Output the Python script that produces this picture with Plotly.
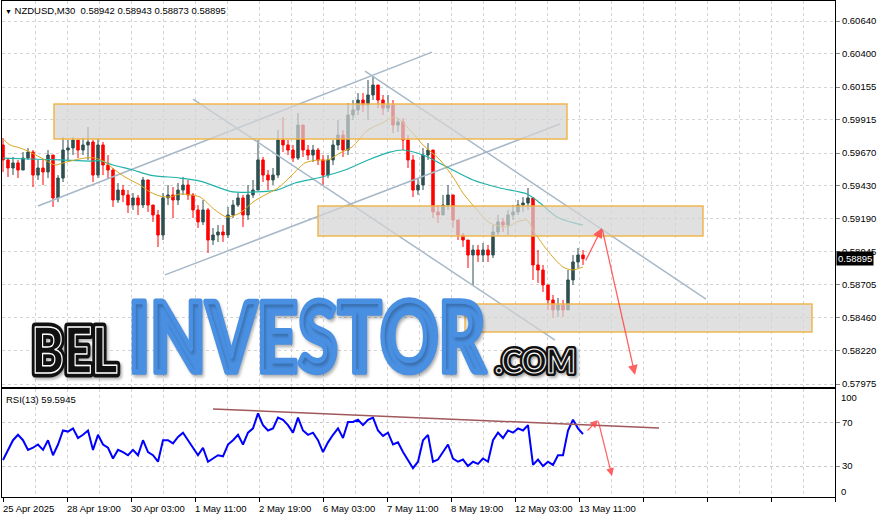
import json
import plotly.graph_objects as go

# ---------------- data ----------------
symbol_header = "NZDUSD,M30"
header_ohlc = ["0.58942", "0.58943", "0.58873", "0.58895"]
last_price = 0.58895
rsi_header = "RSI(13) 59.5945"

# bar index of each candle (5 M30 bars per plotted candle)
bar_x = list(range(3, 584, 5))
first_open = 0.59730
close = [0.59620, 0.59561, 0.59598, 0.59546, 0.59634, 0.59678, 0.59509, 0.59561, 0.59532, 0.59656,
         0.59341, 0.59487, 0.59693, 0.59708, 0.59766, 0.59693, 0.59730, 0.59752, 0.59509, 0.59730,
         0.59583, 0.59546, 0.59326, 0.59399, 0.59363, 0.59289, 0.59341, 0.59289, 0.59473, 0.59289,
         0.59216, 0.59069, 0.59341, 0.59363, 0.59326, 0.59399, 0.59436, 0.59363, 0.59253, 0.59165,
         0.59253, 0.59032, 0.59069, 0.59091, 0.59069, 0.59216, 0.59289, 0.59341, 0.59216, 0.59363,
         0.59399, 0.59620, 0.59509, 0.59473, 0.59509, 0.59766, 0.59730, 0.59693, 0.59634, 0.59876,
         0.59693, 0.59656, 0.59693, 0.59620, 0.59509, 0.59620, 0.59730, 0.59803, 0.59693, 0.59950,
         0.59987, 0.60060, 0.60023, 0.60097, 0.60170, 0.60060, 0.60001, 0.60023, 0.59876, 0.59899,
         0.59766, 0.59620, 0.59399, 0.59436, 0.59656, 0.59693, 0.59238, 0.59216, 0.59289, 0.59363,
         0.59179, 0.59069, 0.59032, 0.58922, 0.58959, 0.58922, 0.58959, 0.58922, 0.59091, 0.59165,
         0.59142, 0.59216, 0.59238, 0.59289, 0.59304, 0.59341, 0.58849, 0.58812, 0.58702, 0.58592,
         0.58519, 0.58555, 0.58519, 0.58739, 0.58871, 0.58922, 0.58895]
high = [0.59781, 0.59634, 0.59642, 0.59620, 0.59678, 0.59708, 0.59693, 0.59620, 0.59620, 0.59693,
        0.59656, 0.59509, 0.59788, 0.59766, 0.59788, 0.59766, 0.59781, 0.59862, 0.59766, 0.59781,
        0.59752, 0.59656, 0.59561, 0.59451, 0.59436, 0.59399, 0.59377, 0.59363, 0.59495, 0.59473,
        0.59289, 0.59253, 0.59377, 0.59436, 0.59421, 0.59451, 0.59495, 0.59473, 0.59377, 0.59289,
        0.59326, 0.59267, 0.59120, 0.59142, 0.59142, 0.59275, 0.59326, 0.59377, 0.59363, 0.59436,
        0.59473, 0.59766, 0.59642, 0.59546, 0.59561, 0.59840, 0.59935, 0.59766, 0.59730, 0.59965,
        0.59876, 0.59730, 0.59730, 0.59708, 0.59656, 0.59656, 0.59766, 0.59913, 0.59840, 0.60038,
        0.60060, 0.60111, 0.60111, 0.60207, 0.60229, 0.60170, 0.60097, 0.60097, 0.60060, 0.59928,
        0.59928, 0.59803, 0.59656, 0.59487, 0.59708, 0.59744, 0.59693, 0.59289, 0.59363, 0.59436,
        0.59363, 0.59179, 0.59084, 0.59032, 0.58996, 0.58996, 0.59010, 0.58996, 0.59142, 0.59216,
        0.59194, 0.59253, 0.59289, 0.59326, 0.59348, 0.59414, 0.59341, 0.58959, 0.58849, 0.58702,
        0.58629, 0.58607, 0.58592, 0.58812, 0.58922, 0.58974, 0.58959]
low = [0.59532, 0.59495, 0.59509, 0.59487, 0.59546, 0.59620, 0.59421, 0.59473, 0.59436, 0.59487,
       0.59275, 0.59311, 0.59458, 0.59620, 0.59656, 0.59634, 0.59656, 0.59620, 0.59458, 0.59487,
       0.59509, 0.59487, 0.59275, 0.59304, 0.59311, 0.59231, 0.59253, 0.59216, 0.59267, 0.59238,
       0.59165, 0.58981, 0.59032, 0.59289, 0.59194, 0.59289, 0.59363, 0.59326, 0.59194, 0.59120,
       0.59142, 0.58937, 0.58996, 0.59018, 0.59018, 0.59047, 0.59194, 0.59275, 0.59128, 0.59179,
       0.59341, 0.59399, 0.59458, 0.59399, 0.59436, 0.59487, 0.59678, 0.59656, 0.59605, 0.59620,
       0.59642, 0.59620, 0.59605, 0.59583, 0.59436, 0.59487, 0.59583, 0.59693, 0.59642, 0.59656,
       0.59913, 0.59950, 0.59972, 0.59913, 0.60060, 0.60001, 0.59950, 0.59972, 0.59818, 0.59825,
       0.59693, 0.59561, 0.59348, 0.59363, 0.59399, 0.59620, 0.59194, 0.59157, 0.59216, 0.59253,
       0.59120, 0.59032, 0.58981, 0.58827, 0.58702, 0.58871, 0.58871, 0.58871, 0.58900, 0.59069,
       0.59091, 0.59069, 0.59179, 0.59216, 0.59238, 0.59253, 0.58739, 0.58717, 0.58651, 0.58519,
       0.58460, 0.58467, 0.58467, 0.58555, 0.58702, 0.58827, 0.58849]
open_ = [first_open] + close[:-1]

# moving averages
ma_fast_x = [3, 10, 20, 30, 45, 55, 63, 75, 85, 95, 105, 115, 125, 140, 150, 160, 170, 180, 190, 200,
             215, 227, 240, 253, 265, 278, 292, 305, 318, 328, 340, 352, 368, 382, 395, 410, 423, 440,
             453, 463, 477, 490, 507, 517, 527, 533, 547, 563, 572, 583]
ma_fast = [0.59774, 0.59730, 0.59708, 0.59678, 0.59620, 0.59583, 0.59598, 0.59620, 0.59634, 0.59634,
           0.59605, 0.59546, 0.59495, 0.59436, 0.59385, 0.59355, 0.59348, 0.59370, 0.59363, 0.59348,
           0.59253, 0.59201, 0.59231, 0.59311, 0.59363, 0.59414, 0.59509, 0.59598, 0.59620, 0.59620,
           0.59671, 0.59715, 0.59840, 0.59891, 0.59935, 0.59840, 0.59730, 0.59620, 0.59495, 0.59377,
           0.59253, 0.59157, 0.59128, 0.59165, 0.59179, 0.59106, 0.58959, 0.58834, 0.58812, 0.58834]
ma_slow_x = [3, 30, 60, 90, 100, 113, 133, 150, 180, 200, 233, 255, 277, 295, 322, 345, 368, 390, 403,
             423, 447, 473, 500, 527, 540, 557, 570, 583]
ma_slow = [0.59634, 0.59627, 0.59620, 0.59612, 0.59614, 0.59583, 0.59546, 0.59509, 0.59487, 0.59465,
           0.59385, 0.59385, 0.59399, 0.59451, 0.59495, 0.59546, 0.59620, 0.59678, 0.59693, 0.59656,
           0.59568, 0.59473, 0.59414, 0.59370, 0.59304, 0.59201, 0.59165, 0.59142]

rsi = [35.6, 45, 54, 59, 54, 45, 47, 50, 45, 54,
       40, 50, 63, 62, 65, 56, 59, 63, 45, 59,
       50, 47, 37, 45, 43, 40, 45, 40, 54, 43,
       40, 34, 54, 54, 51, 57, 61, 54, 47, 40,
       47, 34, 37, 40, 39, 50, 54, 59, 50, 61,
       65, 79, 68, 63, 65, 75, 73, 68, 61, 75,
       63, 59, 61, 54, 43, 52, 59, 65, 56, 71,
       71, 73, 68, 73, 75, 63, 58, 61, 50, 52,
       43, 36, 28, 34, 54, 59, 34, 36, 43, 50,
       37, 34, 36, 30, 34, 32, 37, 34, 54, 61,
       56, 63, 61, 65, 63, 68, 31, 36, 30, 34,
       31, 40, 40, 63, 73, 65, 59.59]

# drawn objects (bar index, price)
channel_x = [[38, 432], [165, 560], [193, 555], [365, 706]]
channel_p = [[0.59282, 0.60412], [0.58776, 0.59884], [0.60067, 0.58298], [0.60273, 0.58599]]
zone_x0 = [54, 318, 465]
zone_x1 = [567, 703, 812]
zone_top = [0.60030, 0.59282, 0.58563]
zone_bot = [0.59774, 0.59062, 0.58357]
forecast_x = [585, 602, 635]
forecast_p = [0.58871, 0.59120, 0.58042]
rsi_trend_x = [213, 659]
rsi_trend = [83.0, 65.3]
rsi_fc_x = [586, 598, 612]
rsi_fc = [61.6, 72.8, 20.7]

price_ticks = [0.60640, 0.60400, 0.60155, 0.59915, 0.59670, 0.59430, 0.59190, 0.58945,
               0.58705, 0.58460, 0.58220, 0.57975]
price_labels = ["0.60640", "0.60400", "0.60155", "0.59915", "0.59670", "0.59430", "0.59190",
                "0.58945", "0.58705", "0.58460", "0.58220", "0.57975"]
time_pos = [3, 67, 131, 195, 259, 323, 387, 451, 515, 579]
time_labels = ["25 Apr 2025", "28 Apr 19:00", "30 Apr 03:00", "1 May 11:00", "2 May 19:00",
               "6 May 03:00", "7 May 11:00", "8 May 19:00", "12 May 03:00", "13 May 11:00"]
rsi_levels = [70, 30]

# ---------------- figure ----------------
W, H = 881, 518
ML, MR, MT, MB = 2, 46, 1, 21
PH = H - MT - MB
FONT = "Liberation Sans, Arial, sans-serif"
GRID = "#D4D4D4"


def py(px):  # pixel row -> paper fraction
    return (H - MB - px) / PH


fig = go.Figure()

for cx, cp in zip(channel_x, channel_p):
    fig.add_trace(go.Scatter(x=cx, y=cp, mode="lines", xaxis="x", yaxis="y",
                             line=dict(color="#A7B8C8", width=1.5), hoverinfo="skip", showlegend=False))

fig.add_trace(go.Candlestick(
    x=bar_x, open=open_, high=high, low=low, close=close, xaxis="x", yaxis="y",
    increasing=dict(line=dict(color="#2F4F4F", width=1), fillcolor="#2F4F4F"),
    decreasing=dict(line=dict(color="#FF0000", width=1), fillcolor="#FF0000"),
    whiskerwidth=0, hoverinfo="none", showlegend=False))

fig.add_trace(go.Scatter(x=ma_slow_x, y=ma_slow, mode="lines", xaxis="x", yaxis="y",
                         line=dict(color="#20B2AA", width=1.2, shape="spline", smoothing=0.8),
                         hoverinfo="skip", showlegend=False))
fig.add_trace(go.Scatter(x=ma_fast_x, y=ma_fast, mode="lines", xaxis="x", yaxis="y",
                         line=dict(color="#DAA520", width=1, shape="spline", smoothing=0.8),
                         hoverinfo="skip", showlegend=False))

fig.add_trace(go.Scatter(x=bar_x, y=rsi, mode="lines", xaxis="x2", yaxis="y2",
                         line=dict(color="#0000FF", width=2), hoverinfo="skip", showlegend=False))
fig.add_trace(go.Scatter(x=rsi_trend_x, y=rsi_trend, mode="lines", xaxis="x2", yaxis="y2",
                         line=dict(color="#A0585A", width=1.5), hoverinfo="skip", showlegend=False))

shapes = []
for x0, x1, t, b in zip(zone_x0, zone_x1, zone_top, zone_bot):
    shapes.append(dict(type="rect", xref="x", yref="y", x0=x0, x1=x1, y0=b, y1=t, layer="above",
                       fillcolor="rgba(212,212,212,0.72)", line=dict(color="rgba(240,180,70,0.95)", width=1.5)))

ann = []
ARROW = "rgba(255,70,70,0.85)"
for i in range(len(forecast_x) - 1):
    ann.append(dict(xref="x", yref="y", axref="x", ayref="y", x=forecast_x[i + 1], y=forecast_p[i + 1],
                    ax=forecast_x[i], ay=forecast_p[i], showarrow=True, arrowhead=2, arrowsize=1.5,
                    arrowwidth=1.3, arrowcolor=ARROW, text=""))
for i in range(len(rsi_fc_x) - 1):
    ann.append(dict(xref="x2", yref="y2", axref="x2", ayref="y2", x=rsi_fc_x[i + 1], y=rsi_fc[i + 1],
                    ax=rsi_fc_x[i], ay=rsi_fc[i], showarrow=True, arrowhead=2, arrowsize=1.3,
                    arrowwidth=1.2, arrowcolor=ARROW, text=""))

header = ("<span style='font-size:7px'>\u25BC</span> " + symbol_header + "\u00a0\u00a0" +
          " ".join(header_ohlc))
ann.append(dict(xref="paper", yref="paper", x=0, y=1, xanchor="left", yanchor="top", xshift=1, yshift=-2,
                showarrow=False, text=header, font=dict(family=FONT, size=9.5, color="black")))
ann.append(dict(xref="paper", yref="paper", x=0, y=py(389), xanchor="left", yanchor="top", xshift=2,
                yshift=-3, showarrow=False, text=rsi_header, font=dict(family=FONT, size=9.5, color="black")))
ann.append(dict(xref="paper", yref="y", x=1, y=last_price, xanchor="left", yanchor="middle", xshift=1,
                showarrow=False, text=f"{last_price:.5f}", bgcolor="black", borderpad=1,
                font=dict(family=FONT, size=9.5, color="white")))
for lab, ypx in (("100", 397), ("0", 491)):
    ann.append(dict(xref="paper", yref="paper", x=1, y=py(ypx), xanchor="left", yanchor="middle", xshift=4,
                    showarrow=False, text=lab, font=dict(family=FONT, size=9.5, color="black")))
for pos, lab in zip(time_pos, time_labels):
    ann.append(dict(xref="x2", yref="paper", x=pos, y=py(508), xanchor="left", yanchor="middle", xshift=-2,
                    showarrow=False, text=lab, font=dict(family=FONT, size=9.5, color="black")))

# watermark text (fitted to its box in the browser)
WM_FONT = "Lato, Roboto, 'DejaVu Sans', sans-serif"
wm_spec = {}


def add_wm(text, box, color, size, stroke, sw, shadow):
    wm_spec[len(ann)] = list(box) + [stroke, sw]
    ann.append(dict(xref="paper", yref="paper", x=0.3, y=0.2, xanchor="left", yanchor="middle",
                    showarrow=False, text=text,
                    font=dict(family=WM_FONT, size=size, color=color, weight=900, shadow=shadow)))


add_wm("BEL", (35, 117, 327, 373), "#111111", 69, "#111111", 8, "2px 2px 3px rgba(0,0,0,0.3)")
add_wm("BEL", (35, 117, 327, 373), "#111111", 69, "#ffffff", 1.3, "none")
add_wm("INVESTOR", (133.5, 486.5, 300.5, 372.5), "#4A90E2", 107, "#4A90E2", 5,
       "2px 2px 3px rgba(0,0,0,0.22)")
add_wm(".COM", (496, 574, 349, 373), "#111111", 39, "#111111", 6, "2px 2px 3px rgba(0,0,0,0.3)")
add_wm(".COM", (496, 574, 349, 373), "#111111", 39, "#ffffff", 1.1, "none")

xcommon = dict(range=[2, 835], tickmode="linear", tick0=3, dtick=64, showline=True, mirror=True,
               linecolor="black", linewidth=1, zeroline=False, showgrid=True, gridcolor=GRID,
               griddash="3px,3px", gridwidth=1, showticklabels=False, fixedrange=True,
               minor=dict(tick0=3, dtick=32, showgrid=True, gridcolor=GRID, griddash="3px,3px", ticks=""))

fig.update_layout(
    width=W, height=H, margin=dict(l=ML, r=MR, t=MT, b=MB, pad=0),
    paper_bgcolor="white", plot_bgcolor="white", showlegend=False, hovermode=False,
    font=dict(family=FONT, size=9.5, color="black"),
    xaxis=dict(**xcommon, anchor="y", ticks="", domain=[0, 1], rangeslider=dict(visible=False)),
    xaxis2=dict(**xcommon, anchor="y2", ticks="outside", ticklen=4, tickcolor="black", domain=[0, 1],
                matches="x"),
    yaxis=dict(domain=[py(387), 1], range=[0.57953, 0.60787], side="right", tickmode="array",
               tickvals=price_ticks, ticktext=price_labels, ticks="outside", ticklen=4, tickcolor="#888888",
               showgrid=True, gridcolor=GRID, griddash="3px,3px", showline=True, mirror=True,
               linecolor="black", linewidth=1, zeroline=False, fixedrange=True,
               tickfont=dict(family=FONT, size=9.5, color="black")),
    yaxis2=dict(domain=[0, py(389)], range=[1.2, 101.6], side="right", tickmode="array",
                tickvals=rsi_levels, ticktext=[str(v) for v in rsi_levels], ticks="outside", ticklen=4,
                tickcolor="#888888", showgrid=True, gridcolor="#C8C8C8", griddash="3px,3px", showline=True,
                mirror=True, linecolor="black", linewidth=1, zeroline=False, fixedrange=True,
                tickfont=dict(family=FONT, size=9.5, color="black")),
    shapes=shapes, annotations=ann,
)

js = r"""
document.body.style.margin = '0';
var gd = document.getElementById('{plot_id}');
var WM = __WM__;
function fitWM(){
  var svg = gd.querySelector('.main-svg');
  if(!svg) return;
  var origin = svg.getBoundingClientRect();
  var groups = gd.querySelectorAll('g.annotation');
  groups.forEach(function(g){
    var idx = g.getAttribute('data-index');
    var spec = WM[idx];
    if(!spec) return;
    var el = g.querySelector('text.annotation-text');
    if(!el) return;
    el.removeAttribute('transform');
    var cs = window.getComputedStyle(el);
    var ctx = document.createElement('canvas').getContext('2d');
    ctx.font = cs.fontStyle + ' ' + cs.fontWeight + ' ' + cs.fontSize + ' ' + cs.fontFamily;
    var m = ctx.measureText(el.textContent);
    var bb = el.getBBox();
    var asc = (m.fontBoundingBoxAscent !== undefined) ? m.fontBoundingBoxAscent : bb.height * 0.8;
    var base = bb.y + asc;
    var inkL = bb.x - m.actualBoundingBoxLeft;
    var inkR = bb.x + m.actualBoundingBoxRight;
    var A = m.actualBoundingBoxAscent;
    var ctm = el.parentNode.getScreenCTM();
    var ux0 = (origin.left + spec[0] - ctm.e) / ctm.a;
    var ux1 = (origin.left + spec[1] - ctm.e) / ctm.a;
    var ut = (origin.top + spec[2] - ctm.f) / ctm.d;
    var ub = (origin.top + spec[3] - ctm.f) / ctm.d;
    var sx = (ux1 - ux0) / (inkR - inkL);
    var sy = (ub - ut) / A;
    el.setAttribute('transform', 'matrix(' + sx + ',0,0,' + sy + ',' + (ux0 - sx * inkL) + ',' + (ub - sy * base) + ')');
    if(spec[4] !== 'none'){
      el.style.stroke = spec[4];
      el.style.strokeWidth = spec[5] + 'px';
      el.style.strokeLinejoin = 'round';
      el.style.vectorEffect = 'non-scaling-stroke';
    }
  });
}
fitWM();
gd.on('plotly_afterplot', fitWM);
""".replace("__WM__", json.dumps({str(k): v for k, v in wm_spec.items()}))

fig.write_html("out.html", include_plotlyjs=True, post_script=js, config={"displayModeBar": False})
